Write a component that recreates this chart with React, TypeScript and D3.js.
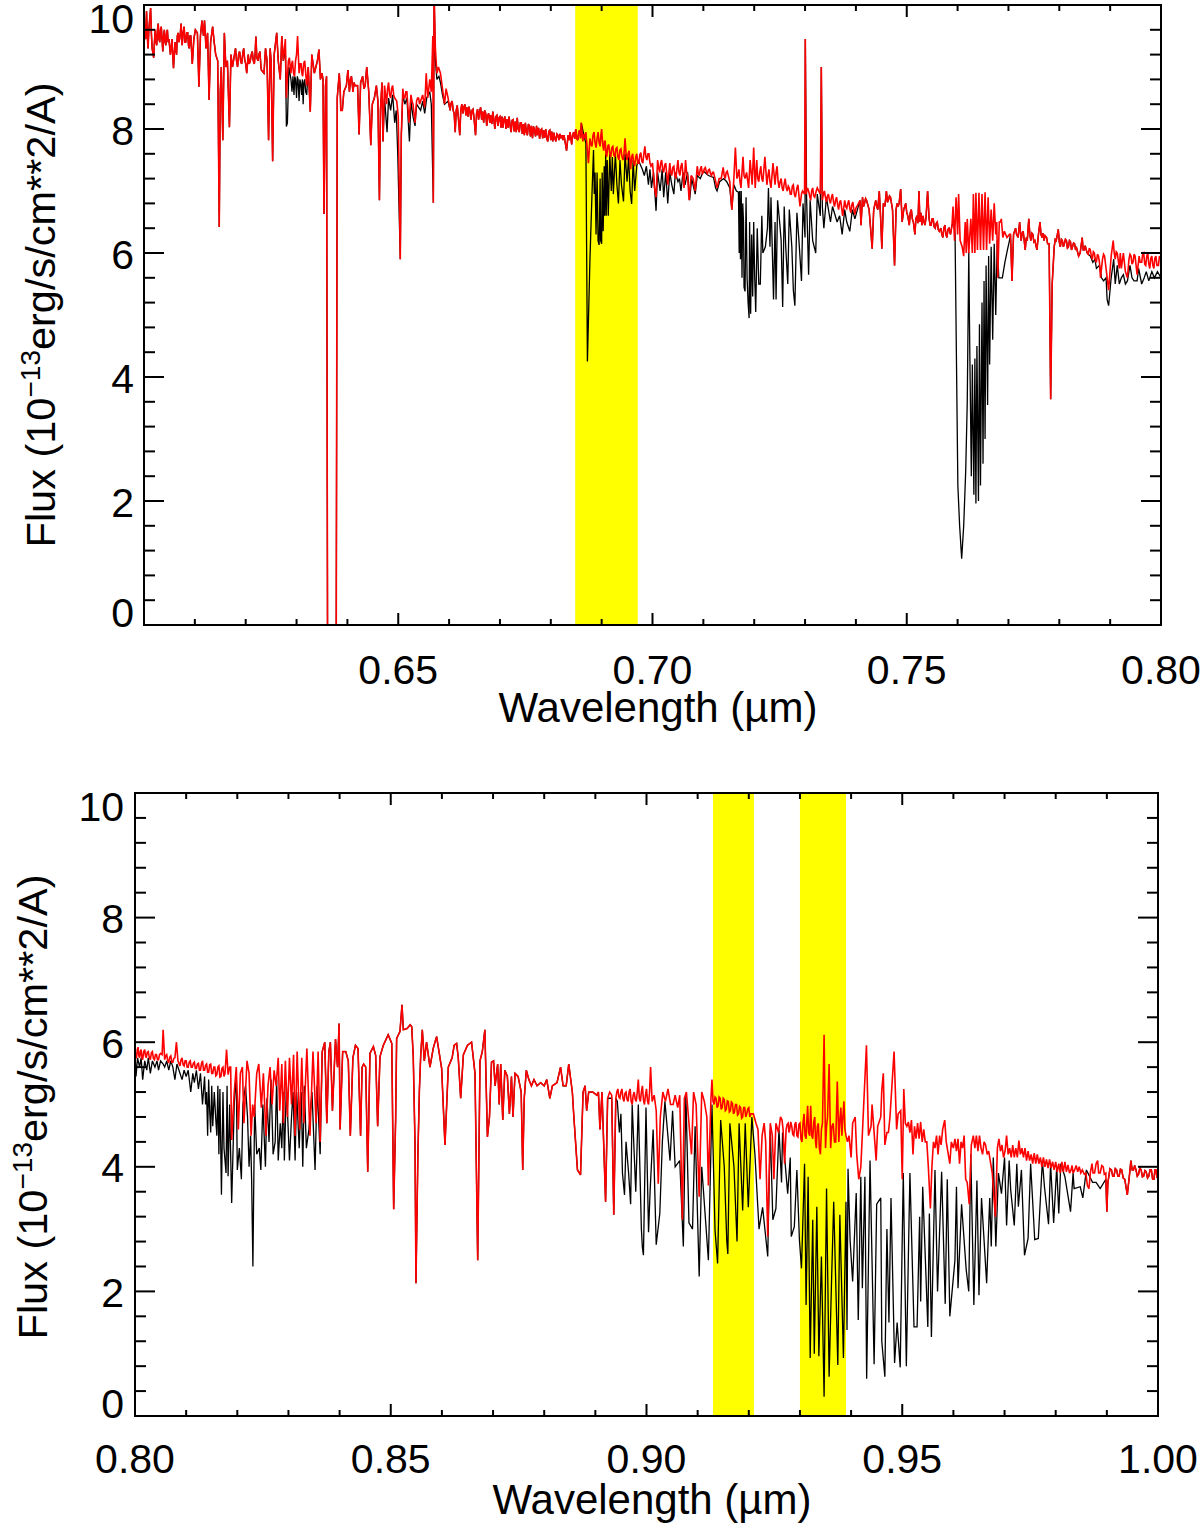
import React from "react";
import * as d3 from "d3";

// All spectra: flat lists of wavelength (nm), flux (1e-13 erg/s/cm**2/A)
const topShared1 = [600,9.8,600.15,9.55,600.3,9.45,600.5,9.9,600.65,9.5,600.8,9.3,600.95,9.6,601.1,9.75,601.3,9.95,601.45,9.55,601.6,9.3,601.9,9.15,602.05,9.4,602.2,9.6,602.35,9.4,602.5,9.35,602.65,9.6,602.8,9.7,602.95,9.45,603.1,9.4,603.25,9.6,603.4,9.65,603.55,9.45,603.7,9.25,603.85,9.5,604,9.6,604.15,9.4,604.3,9.35,604.45,9.55,604.6,9.6,604.75,9.4,604.9,9.45,605.2,9.2,605.5,9.45,605.8,8.98,606.1,9.4,606.25,9.3,606.4,9.2,606.55,9.5,606.7,9.55,606.85,9.4,607,9.45,607.15,9.55,607.3,9.7,607.5,9.35,607.7,9.55,607.9,9.65,608.05,9.4,608.2,9.4,608.4,9.55,608.6,9.55,608.75,9.35,608.9,9.3,609.05,9.5,609.2,9.5,609.5,9.05,609.8,9.45,610.1,9.6,610.5,9.55,610.8,8.68,611.1,9.5,611.4,9.75,611.7,9.5,611.9,9.75,612.2,9.3,612.5,9.55,612.8,8.47,613.1,9.4,613.5,9.65,613.8,9.4,614.1,9.2,614.5,9.1,614.8,6.42,615,8.6,615.2,9,615.5,7.82,615.8,9.55,616.1,9,616.4,9.1,616.8,8.03,617.1,9.2,617.4,9,617.7,9.15,618,9.3,618.2,9.1,618.4,9,618.6,9.2,618.8,9.25,619,9.1,619.2,9.05,619.4,9.2,619.6,9.3,619.8,9.12,620,9.05,620.2,8.9,620.5,9.2,620.7,9.05,620.9,9.1,621.1,9.2,621.3,9.25,621.5,9.1,621.7,9.05,621.85,9.2,622,9.49,622.2,9.15,622.4,9.1,622.6,9.2,622.8,9.25,623,9.0,623.1,8.95,623.6,8.9,623.9,9.3,624.2,9.1,624.5,7.82,624.8,9.3,625,9.1,625.3,7.48,625.6,9.2,626.1,9.55,626.4,9.1,626.8,8.8,627.1,9.5,627.4,9.1];
const topRedDense = [627.8,9.45,628,8.5,628.2,8.85,628.4,9.1,628.6,9.15,628.75,9,628.9,8.9,629.05,9.05,629.2,9.1,629.4,8.9,629.6,8.85,629.8,9.1,630,9.2,630.2,9.5,630.5,8.9,630.7,9.05,630.9,9.05,631.05,8.9,631.2,8.85,631.4,9.05,631.6,9.1,631.8,8.9,632,8.7];
const topBlackDense = [627.8,9.3,628,8.04,628.2,8.1,628.5,9,628.9,8.8,629.1,8.6,629.3,8.85,629.5,8.55,629.65,8.85,629.8,8.8,630,8.5,630.15,8.85,630.3,8.8,630.5,8.45,630.65,8.8,630.8,8.75,631,8.55,631.15,8.8,631.3,8.4,631.45,8.75,631.6,8.8,631.8,8.6,632,8.55];
const topShared2 = [632.3,9,632.7,8.28,633,9.2,633.5,8.9,634.1,9.1,634.4,9.28,634.7,8.8,635,8.9,635.2,8.8,635.4,6.63,635.7,8.7,635.9,8.85,636.1,-0.5,636.9,-0.5,637.8,-0.5,638,8.5,638.4,8.9,638.6,8.6,638.7,8.3,639,8.3,639.3,8.6,639.8,8.7,640.1,8.95,640.4,8.6,640.6,8.8,640.8,8.85,641.1,8.6,641.3,8.75,641.5,8.7,642,8.7,642.3,7.91,642.6,8.75,643,8.85,643.25,8.65,643.5,8.7,643.8,9,644.2,8.6,644.6,7.74,644.9,8.4,645.3,8.5,645.7,8.7,646,8.45,646.3,6.85,646.5,8.3,646.8,8.75,647,7.8];
const topRedMid = [647.3,8.7,647.7,8.4,647.9,8.65,648.1,8.75,648.3,8.55,648.5,8.5,648.7,8.65,648.9,8.7,649.1,8.55,649.3,8.5,649.7,8.45,650,8.2,650.4,5.9,650.6,7.9,650.9,8.65,651.1,8.5,651.3,8.5,651.5,8.6,651.7,8.6,652.1,8.1,652.5,8.55,652.7,8.45,652.9,8.4,653.3,8.1,653.6,8.45,653.8,8.5,654,8.5,654.2,8.4,654.4,8.45,654.6,8.5,654.8,8.55,655.2,8.35,655.5,8.9,655.8,8.5,656.2,8.8,656.5,8.6,656.8,9.5,656.9,6.81,657.05,10.2,657.3,9.3,657.6,8.9,657.9,9,658.3,8.9,658.7,8.65,659.1,8.4,659.4,8.65,659.8,8.5];
const topBlackMid = [647.3,8.5,647.8,7.95,648.1,8.5,648.5,8.3,648.9,8.55,649.3,8.1,649.6,8.3,649.9,7.6,650.4,5.9,650.6,7.9,650.9,8.55,651.3,8.4,651.7,8.5,652.2,7.8,652.5,8.45,652.9,8.2,653.3,8.05,653.6,8.4,654.4,8.3,654.8,8.45,655.2,8.25,655.6,8.5,656.2,8.6,656.5,8.4,656.9,6.81,657.05,10.2,657.3,9.1,657.6,8.8,658,8.85,658.3,8.75,658.7,8.55,659.1,8.4,659.8,8.45];
const topShared3 = [660.2,8.3,660.4,8.42,660.6,8.45,660.8,8.3,661,8.25,661.2,7.95,661.4,8.3,661.6,8.38,661.8,8.2,662.1,7.9,662.3,8.3,662.5,8.4,662.7,8.25,662.9,8.35,663.1,8.4,663.3,8.22,663.5,8.35,663.7,8.2,663.9,8.36,664.1,8.28,664.3,8.15,664.5,8.3,664.7,8.32,664.9,8.18,665.2,7.9,665.4,8.25,665.6,8.32,665.8,8.15,666,8.28,666.2,8.35,666.4,8.15,666.6,8.28,666.8,8.1,667,8.3,667.2,8.25,667.4,8.05,667.6,8.22,667.8,8.25,668,8.1,668.2,8.22,668.4,8.08,668.6,8.28,668.8,8.15,669,8.0,669.2,8.2,669.4,8.22,669.6,8.05,669.8,8.18,670,8.2,670.2,8.02,670.4,8.2,670.6,8.02,670.8,8.16,671,8.2,671.2,8,671.4,8.16,671.6,8.02,671.8,8.2,672,8.05,672.2,7.95,672.4,8.14,672.6,8.15,672.8,7.96,673,8.12,673.2,7.95,673.4,8.18,673.6,8,673.8,7.95,674,8.1,674.2,8.1,674.4,7.92,674.6,8.08,674.8,7.9,675,8.1,675.2,7.95,675.4,7.9,675.6,8.08,675.8,8.05,676,7.88,676.2,8.05,676.4,7.85,676.6,8.04,676.8,7.98,677,7.88,677.2,8.05,677.4,7.9,677.6,8.02,677.8,7.84,678,7.98,678.2,8,678.4,7.85,678.6,7.98,678.8,7.86,679,8,679.2,7.85,679.4,7.8,679.6,7.96,679.8,7.98,680,7.82,680.2,7.96,680.4,7.8,680.6,7.94,680.8,7.85,681,7.8,681.2,7.92,681.4,7.9,681.6,7.82,681.8,7.92,682,7.85,682.2,7.9,682.4,7.82,682.6,7.9,682.8,7.8,683.1,7.65,683.4,7.9,683.6,7.82,683.8,7.95,684.1,7.75,684.3,7.9,684.5,7.95,684.7,7.84,684.9,8,685.1,7.85,685.3,7.82,685.5,7.95,685.7,7.98,685.85,7.85,686,8.1];
const topRed4 = [686.3,7.8,686.5,7.92,686.7,7.85,686.9,7.95,687.1,7.75,687.4,7.45,687.7,7.85,687.9,7.75,688.1,7.72,688.3,7.9,688.5,7.95,688.7,7.78,688.9,7.7,689.1,7.85,689.3,7.95,689.5,7.78,689.7,7.72,689.85,7.9,690,8,690.2,7.75,690.4,7.65,690.55,7.8,690.7,7.8,690.85,7.6,691,7.55,691.2,7.72,691.4,7.75,691.6,7.6,691.8,7.55,692,7.7,692.2,7.72,692.4,7.58,692.6,7.55,692.8,7.68,693,7.7,693.2,7.55,693.4,7.5,693.6,7.66,693.8,7.68,694,7.55,694.2,7.5,694.4,7.6,694.6,7.85,694.8,7.6,695,7.5,695.2,7.6,695.4,7.65,695.7,7.35,695.9,7.55,696.1,7.6,696.3,7.45,696.5,7.4,696.7,7.55,696.9,7.6,697.1,7.45,697.3,7.45,697.5,7.58,697.7,7.62,697.9,7.48,698.1,7.45,698.3,7.6,698.5,7.72,698.7,7.55,698.9,7.5,699.1,7.6,699.3,7.6,699.5,7.45,699.7,7.4,700,7.45,700.4,7.05,700.7,6.9,701,7.5,701.2,7.38,701.4,7.3,701.6,7.45,701.8,7.5,702,7.35,702.2,7.3,702.4,7.42,702.6,7.45,703,7.1,703.4,7.45,703.6,7.3,703.8,7.25,704,7.38,704.2,7.4,704.4,7.25,704.6,7.2,705,7.5,705.2,7.3,705.4,7.25,705.6,7.4,705.8,7.45,706.2,7.05,706.5,7.5,706.7,7.3,706.9,7.25,707.2,6.85,707.6,7.25,708,7.2,708.4,7,708.8,7.4,709,7.28,709.2,7.25,709.4,7.35,709.6,7.4,709.8,7.28,710,7.3,710.2,7.36,710.4,7.38,710.6,7.3,710.8,7.28,711,7.34,711.2,7.35,711.4,7.28,711.6,7.25,711.8,7.3,712,7.3,712.3,7.2,712.7,7.05,713.1,7.2,713.5,7.2,713.9,7.38,714.1,7.25,714.3,7.2,714.5,7.3,714.7,7.32,715.2,7.15,715.6,6.7,716,7.2,716.3,7.7,716.6,7.2,716.8,7.25,717,7.35,717.2,7.15,717.4,7.05,717.8,7.55,718,7.25,718.2,7.2,718.5,7.3,718.9,7.05,719.2,7.5,719.6,7.1,719.9,7.7,720.2,7.05,720.5,7.5,720.7,7.2,720.9,7.15,721.1,7.3,721.3,7.4,721.5,7.2,721.7,7.15,722.1,7.55,722.5,7.1,722.7,7.25,722.9,7.35,723.1,7.15,723.3,7.05,723.7,7.45,724.1,7.1,724.3,7.3,724.5,7.4,724.7,7.15,724.9,7.05,725.1,7.15,725.3,7.2,725.5,7.05,725.7,7,725.9,7.12,726.1,7.2,726.3,7.05,726.5,7,726.7,7.08,726.9,7.05,727.1,6.95,727.3,6.95,727.5,7.08,727.7,7.1,727.9,6.95,728.1,6.9,728.4,7.05,728.6,7.1,729,6.75,729.3,6.95,729.5,7,729.9,6.95,730.05,9.45,730.2,6.95,730.5,7.05,730.7,7,731.1,6.85,731.3,7,731.5,7.05,731.7,6.92,731.9,6.9,732.2,7,732.4,7.05,733,6.95,733.2,9,733.4,6.85,733.6,6.95,733.8,7,734,6.9,734.2,6.82,734.4,6.92,734.6,6.95,734.8,6.85,735,6.8,735.2,6.9,735.4,6.95,735.6,6.82,735.8,6.75,736,6.85,736.2,6.9,736.4,6.78,736.6,6.7,736.8,6.82,737,6.85,737.4,6.6,737.8,6.85,738,6.75,738.2,6.72,738.4,6.8,738.6,6.85,738.8,6.72,739,6.65,739.2,6.78,739.4,6.82,739.6,6.7,739.8,6.62,740,6.72,740.2,6.75];
const topBlack4 = [686.5,7.9,686.9,7.77,687.2,4.25,687.7,5.9,688.1,6.95,688.4,7.66,688.55,6.95,688.7,7.3,688.9,6.3,689.1,7.3,689.3,6.2,689.5,6.13,689.7,7.2,689.8,6.2,690,6.15,690.1,7.3,690.3,6.35,690.5,7.4,690.6,6.6,690.8,7.6,690.9,6.6,691.1,7.5,691.3,6.6,691.6,7.6,691.9,7.0,692.1,7.55,692.3,6.95,692.7,7.6,693,7.1,693.3,6.8,693.6,7.5,693.9,7.1,694.3,6.83,694.6,7.6,695,7.15,695.3,7.55,695.6,7.0,695.9,6.79,696.2,7.5,696.5,7,696.9,7.4,697.2,7.5,698,7.35,698.4,7.25,698.8,7.4,699.2,7.1,699.5,7.35,699.8,7.05,700.2,7.3,700.7,6.68,701,7.3,701.5,7.0,701.9,7.35,702.2,6.9,702.6,7.3,703,6.8,703.4,7.3,703.8,7.1,704.2,6.95,704.5,7.3,705,7.15,705.3,7.2,705.6,7.0,706,7.3,706.4,7.1,706.9,7.3,707.3,6.85,707.7,7.2,708.4,6.95,708.8,7.25,709.4,7.2,710,7.32,711,7.25,712,7.22,712.4,7.05,712.7,7.0,713.2,7.15,714,7.2,714.6,7.15,715.2,7.05,715.6,6.7,716,7.1,716.5,7,716.9,6.98,717.05,6,717.15,7,717.3,5.9,717.45,7,717.6,5.6,717.75,6.8,717.9,6.5,718,5.45,718.2,5.38,718.4,6.9,718.6,5.6,718.8,5.2,719,4.95,719.1,6.5,719.3,5.02,719.5,6.3,719.7,5.3,719.9,6.5,720.1,5.6,720.3,5.05,720.6,6.4,720.9,5.5,721.2,5.5,721.5,6.6,721.7,6.0,722.2,6.1,722.6,6.4,722.8,7.05,723.1,6.1,723.3,6.9,723.8,5.25,724.1,6.5,724.3,5.25,724.6,6.85,725,6.5,725.3,6.2,725.6,5.13,725.9,6.75,726.2,6.1,726.6,5.5,726.9,6.7,727.4,6.1,727.7,5.4,728,5.15,728.4,6.65,728.8,6.2,729.3,5.55,729.6,6.8,730,6.25,730.05,9.45,730.3,6.9,730.7,5.65,731,6.85,731.5,6.2,732.1,6,732.4,6.95,733,6.6,733.2,9,733.4,6.75,733.7,6.4,734.2,6.9,735,6.5,735.4,6.75,736.3,6.5,736.8,6.6,737.3,6.3,737.8,6.7,738.2,6.5,738.8,6.35,739.3,6.7,739.8,6.55,740.3,6.7];
const topShared5 = [740.8,6.85,741,6.45,741.3,6.9,741.5,6.75,741.7,6.8,741.9,6.88,742.1,6.85,742.6,6.7,743.2,6.07,743.5,6.7,743.9,6.85,744.1,6.75,744.3,6.7,744.6,7,744.9,6.5,745.1,6.07,745.4,6.8,745.7,6.75,746,7,746.2,6.82,746.4,6.85,746.6,6.92,746.8,6.9,747.2,6.7,747.6,5.8,747.9,6.7,748.1,6.8,748.3,6.75,748.5,6.8,748.8,7.03,749.1,6.5,749.4,6.7,749.6,6.75,749.8,6.8,750,6.65,750.2,6.6,750.5,6.45,750.7,6.65,750.9,6.7,751.1,6.55,751.3,6.5,751.6,6.3,751.8,6.55,752,6.6,752.2,6.48,752.4,7.0,752.6,6.5,752.8,6.65,753,6.45,753.2,6.6,753.4,6.5,753.6,6.45,753.8,6.58,754.1,7.0,754.4,6.55,754.6,6.45,754.8,6.45,755,6.55,755.2,6.55,755.4,6.42,755.6,6.4,755.8,6.48,756,6.5,756.2,6.38,756.4,6.35,756.7,6.4,756.9,6.3,757.1,6.25,757.3,6.4,757.5,6.45,757.7,6.3,757.9,6.25,758.1,6.38,758.3,6.4,758.6,6.3,758.9,6.45];
const topRed6 = [759.1,6.75,759.4,6.2,759.7,6.9,760,6.3,760.2,6.95,760.5,6.2,760.9,6.1,761.2,5.95,761.5,6.5,761.7,6.0,761.9,6.55,762.2,6.0,762.6,6.55,762.9,6.0,763.1,6.95,763.4,6,763.6,6.97,763.9,6.05,764.2,6.97,764.5,6.05,764.8,6.95,765.1,6.05,765.4,6.98,765.7,6.05,766,6.9,766.3,6.15,766.6,6.7,766.9,6.2,767.2,6.8,767.5,6.3,767.7,6.5,767.9,5.6,768.2,6.5,768.4,6.5,768.6,6.55,768.9,6.25,769.2,6.35,769.7,6.25,770.2,6.3];
const topBlack6 = [759.2,6.5,759.5,6.3,760,2.63,760.05,2.25,760.4,1.6,760.8,1.07,761.2,1.6,761.6,2.5,761.9,3.6,762.2,6.02,762.4,4.4,762.7,2.4,762.9,4.2,763.2,2.1,763.4,4.3,763.6,1.96,763.8,4.5,764.1,2,764.3,4.85,764.5,2.25,764.8,5.2,765,2.6,765.2,5.55,765.4,3,765.6,5.8,765.9,3.55,766.1,5.95,766.3,4.2,766.6,6.1,766.9,4.6,767.2,6.15,767.5,5,767.8,6.2,768.1,5.6,768.8,5.6,769.3,5.85,769.8,6.05,770.2,6.2];
const topShared7 = [770.4,6.3,770.7,5.55,771,6.3,771.2,6.35,771.4,6.4,771.6,6.3,771.9,6.25,772.2,6.5,772.5,6.2,772.7,6.32,772.9,6.35,773.1,6.2,773.3,6.05,773.5,6.25,773.7,6.2,774,6.55,774.2,6.3,774.4,6.2,774.6,6.32,774.8,6.3,775,6.18,775.2,6.2,775.6,6.05,775.9,6.3,776.2,6.5,776.4,6.3,776.6,6.25,776.8,6.32,777,6.2,777.2,6.28,777.5,6.25,777.7,6.15,778,6.15,778.3,3.64,778.6,5.5,779,6.1,779.2,6.22,779.4,6.2,779.8,6.38,780,6.18,780.2,6.1,780.4,6.22,780.6,6.2,780.8,6.1,781,6.15,781.2,6.22,781.4,6.2,781.6,6.08,781.8,6.1,782,6.2,782.2,6.18,782.4,6.05,782.6,6.1,782.8,6.16,783,6.15,783.2,6.05,783.4,6.08,783.8,5.95,784.1,6,784.5,6.25,784.7,6.05,784.9,6.05,785.1,6.12,785.3,6.05,785.5,6.0,785.7,5.98];
const topRed8 = [785.9,6.08,786.1,6.05,786.3,5.95,786.5,5.9,786.7,6.02,786.9,6.0,787.1,5.88,787.3,5.85,787.5,5.98,787.7,5.95,787.9,5.85,788.1,5.6,788.5,5.9,788.7,5.98,788.9,5.95,789.2,5.75,789.7,5.4,790.2,5.95,790.6,6.2,790.8,6,791,5.9,791.2,6.02,791.4,6,791.8,5.75,792,6,792.2,5.75,792.6,6,792.8,5.85,793,5.7,793.4,5.6,793.7,5.9,793.9,5.98,794.1,5.95,794.3,5.82,794.5,5.85,794.7,5.98,794.9,5.95,795.3,5.65,795.7,5.95,795.9,5.85,796.2,5.85,796.4,5.98,796.6,6,796.8,5.82,797,5.8,797.2,5.95,797.4,6,797.6,5.82,797.8,5.75,798,5.92,798.2,5.95,798.4,5.8,798.6,5.75,798.8,5.92,799,5.95,799.2,5.8,799.5,5.8,799.7,5.95,800,5.9];
const topBlack8 = [786.1,5.95,786.6,5.85,787,5.9,787.3,5.75,787.9,5.8,788.3,5.6,788.7,5.55,789.2,5.6,789.4,5.25,789.7,5.15,790.2,5.6,790.7,5.9,791,5.5,791.4,5.8,791.8,5.5,792.2,5.6,792.6,5.65,793,5.5,793.4,5.55,793.9,5.8,794.3,5.6,794.7,5.55,795.3,5.55,795.6,5.75,796.2,5.5,796.7,5.6,797.1,5.7,797.6,5.55,798.2,5.7,798.7,5.6,799.3,5.7,800,5.6];

const botRed1 = [800,5.87,800.15,5.75,800.3,5.75,800.45,5.88,800.6,5.92,800.75,5.78,800.9,5.75,801.05,5.85,801.2,5.88,801.35,5.75,801.5,5.72,801.7,5.85,801.9,5.88,802.05,5.78,802.2,5.75,802.4,5.84,802.6,5.85,802.8,5.75,803,5.72,803.2,5.83,803.4,5.85,803.6,5.74,803.8,5.72,804,5.8,804.2,5.8,804.4,5.72,804.6,5.72,804.8,5.8,805,5.82,805.3,5.8,805.5,6.2,805.8,5.72,806,5.78,806.2,5.8,806.4,5.7,806.6,5.68,806.8,5.76,807,5.78,807.2,5.68,807.4,5.68,807.6,5.74,807.8,5.75,808.1,6,808.4,5.7,808.6,5.66,808.8,5.62,809,5.72,809.2,5.75,809.4,5.64,809.6,5.62,809.8,5.7,810,5.7,810.2,5.6,810.4,5.6,810.6,5.68,810.8,5.7,811,5.6,811.2,5.6,811.4,5.66,811.6,5.68,811.8,5.58,812,5.58,812.2,5.65,812.4,5.66,812.6,5.55,812.8,5.55,813,5.66,813.2,5.7,813.4,5.55,813.6,5.55,813.8,5.63,814,5.65,814.2,5.52,814.4,5.52,814.6,5.64,814.8,5.65,815,5.5,815.2,5.5,815.4,5.6,815.6,5.6,815.8,5.46,816,5.48,816.2,5.6,816.4,5.62,816.6,5.44,816.8,5.45,817,5.58,817.2,5.6,817.4,5.45,817.6,5.5,817.9,5.88,818.2,5.48,818.5,5.6,818.7,5.6];
const botBlack1 = [800,5.85,800.2,5.45,800.5,5.75,800.9,5.6,801.2,5.75,801.5,5.4,801.9,5.7,802.3,5.55,802.6,5.75,803,5.5,803.4,5.7,803.9,5.6,804.3,5.7,804.6,5.55,805,5.7,805.5,5.65,805.8,5.6,806.2,5.7,806.6,5.55,807,5.7,807.4,5.6,807.8,5.4,808.2,5.65,808.6,5.55,809.2,5.4,809.6,5.55,810,5.45,810.4,5.55,810.9,5.2,811.3,5.5,811.6,5.35,812,5.55,812.4,5.25,812.8,5.5,813.2,5,813.6,5.45,813.8,5.0,814,5.2,814.2,4.5,814.4,5.4,814.6,4.9,814.8,4.55,815,5.3,815.2,4.65,815.5,5.2,815.8,4.75,816,4.5,816.2,5.3,816.4,4.2,816.6,5.25,816.9,3.55,817.2,5.2,817.4,4.3,817.8,3.9,818,5.3,818.2,3.85,818.5,5.0];
const botRed2 = [818.9,4.43,819.4,5.2,819.8,5.6,820.2,4.6,820.6,5.5,821,5.6,821.3,4.7,821.6,5.2,821.9,5.7,822.3,5.5,822.7,4.5,823,5.0,823.3,4.8,823.8,5.5,824.2,5.65,824.7,4.95,825.1,5.5,825.6,4.5,826,5.3,826.4,5.6,826.8,5.0,827.2,5.55,827.6,5.3,828,5.75,828.3,4.9,828.7,5.65,829,4.7,829.4,5.7,829.8,4.8,830.2,5.75,830.6,5.0,831,5.8,831.3,4.5,831.7,5.85,832.2,4.6,832.6,5.75,833,4.7,833.6,5.9,834.2,4.5,834.8,5.85,835.4,4.7,835.8,5.85,836.2,4.4];
const botBlack2 = [818.9,3.42,819.4,5.0,819.8,5.5,820,3.95,820.4,4.3,820.8,3.8,821.1,5.0,821.6,5.3,822,4.8,822.3,4.0,822.6,4.5,822.8,3.8,823.05,2.4,823.2,3.6,823.4,5.0,823.8,4.2,824.3,4.3,824.6,3.95,825,5.0,825.5,4.0,825.8,5.1,826.2,4.4,826.6,5.4,827,4.2,827.4,4.4,827.7,5.4,828,4.1,828.4,4.7,828.7,4.3,829,5.2,829.2,4.1,829.6,5.3,830.2,4.1,830.6,4.8,830.9,5.2,831.3,4.1,831.6,5.2,832.1,4.3,832.5,5.2,832.8,4.0,833.1,5.3,833.5,4.3,834,4.6,834.6,5.2,835.2,3.95,835.6,5.3,836.2,4.2];
const botShared3 = [836.6,5.85,837.1,6,837.5,4.7,837.9,5.85,838.2,6.0,838.6,4.9,839.2,6.05,839.5,5.7,839.6,5.6,839.9,6.3,840.1,4.6,840.6,5.85,841.2,5.85,841.7,5.7,842.1,4.5,842.6,5.75,843.1,5.95,843.6,5.9,844.1,4.5,844.4,5.6,844.7,5.65,845.1,5.6,845.5,3.92,845.94,5.82,846.6,5.93,847.05,5.79,847.44,4.65,847.9,5.77,848.55,5.95,849.5,6.12,850.2,5.98,850.57,3.32,850.96,4.78,851.15,6.06,851.8,6.17,852.2,6.6,852.46,6.2,853.2,6.22,853.8,6.28,854.1,6.25,854.4,5.77,854.74,4.38,854.93,2.13,855.3,4.16,855.6,5.23,855.85,5.77,856.17,6.2,856.56,5.7,857,6,857.67,5.6,858.3,5.9,858.97,6.09,859.95,5.58,860.6,4.35,861.25,5.6,862,5.75,862.4,5.95,862.88,5.98,863.2,5.75,863.67,5.1,864.2,5.8,865,5.95,865.8,6,866.47,5.5,867,2.5,867.45,5.7,867.9,5.85,868.4,6.2,868.9,4.48,869.3,4.8,869.7,5.68,870.1,5.7,870.4,5.3,870.9,5.65,871.2,5.0,871.5,5.65,871.9,4.75,872.3,5.55,872.8,5.45,873.2,4.85,873.6,5.45,873.9,4.8,874.3,5.5,874.9,5.45,875.5,5.2,875.8,3.95,876.1,5.1,876.5,5.55,877,5.4,877.5,5.3,878,5.4,878.6,5.3,879.3,5.35,880,5.3,880.5,5.4,881.1,5.1,881.6,5.3,882.5,5.35,883.2,5.6,883.7,5.3,884.3,5.3,884.8,5.65,885.5,5.2,885.8,4.8,886.5,3.95,887.1,3.87,887.6,5.2,888,5.3,888.3,4.9,888.7,5.2,889.5,5.2,890.3,5.15];
const botRed4 = [890.6,5.2,890.9,4.6,891.3,5.2,892,3.44,892.4,5.1,892.8,5.2,893.2,5.15,893.6,3.23,894,5.1,894.2,5.2,894.4,5.25,894.6,5.12,894.8,5.1,895,5.2,895.2,5.25,895.4,5.1,895.6,5.05,895.8,5.18,896,5.2,896.2,5.08,896.4,5.05,896.6,5.2,896.8,5.25,897,5.05,897.2,5.0,897.4,5.15,897.6,5.2,897.8,5.08,898,5.05,898.2,5.2,898.4,5.4,898.6,5.1,898.8,5.05,899,5.2,899.2,5.3,899.4,5.08,899.6,5.0,899.8,5.15,900,5.25,900.2,5.05,900.4,5.0,900.6,5.2,900.8,5.6,901.1,5.05,901.5,5.15,901.9,4.9,902.3,3.73,902.7,4.8,903.2,5.2,903.7,5.05,904.2,5.25,904.7,5.0,905.2,5.0,905.6,5.15,906.1,4.95,906.5,5.15,907,3.15,907.4,5.1,907.8,5.2,908.2,4.8,908.8,4.2,909.2,5.2,909.7,5.0,910.3,3.52,910.8,5.2,911.3,5.05,911.8,4.8,912.1,3.7,912.6,5.1,912.8,5.4,913,5.05,913.2,5.0,913.4,5.12,913.6,5.1,913.8,4.95,914,4.98,914.2,5.12,914.4,5.1,914.6,4.92,914.8,4.95,915,5.1,915.2,5.08,915.4,4.9,915.6,4.92,915.8,5.06,916,5.05,916.2,4.88,916.4,4.9,916.6,5.04,916.8,5.02,917,4.85,917.2,4.88,917.4,5.0,917.6,5,917.8,4.83,918,4.85,918.2,4.97,918.4,4.95,918.6,4.78,918.8,4.8,919,4.95,919.2,4.95,919.4,4.8,919.6,4.85,919.8,4.93,920,4.95,920.2,4.8,920.4,4.85,920.9,4.85,921.4,4.7,921.8,4.6,922.2,3.8,922.6,4.5,923,4.7,923.3,4.4,923.7,2.88,924.2,4.7,924.6,4.5,924.9,3.8,925.3,4.7,925.8,4.55,926.2,4.8,926.5,4.75,926.7,4.6,927,4.05,927.3,4.6,927.5,4.68,927.7,4.7,927.85,4.55,928,4.6,928.2,4.72,928.4,4.65,928.6,4.52,928.8,4.5,929,4.68,929.2,4.72,929.4,4.5,929.6,4.48,929.8,4.68,930,4.7,930.2,4.45,930.4,4.4,930.6,4.7,930.8,4.85,931,4.5,931.2,4.45,931.35,4.75,931.5,4.98,931.7,4.55,931.9,4.5,932.1,4.98,932.3,4.5,932.5,4.45,932.7,4.72,932.9,4.8,933.05,4.4,933.2,4.3,933.4,4.65,933.6,4.7,933.8,4.3,934,4.2,934.2,4.6,934.4,4.7,934.72,6.12,935,4.3,935.2,4.65,935.4,4.8,935.7,5.65,936,4.3,936.25,4.65,936.5,4.7,936.75,4.4,937,4.4,937.3,5.37,937.6,4.4,937.8,4.75,938,4.95,938.2,4.5,938.4,4.8,938.6,5.05,938.8,4.6,939,4.5,939.3,4.4,939.6,4.5,940,4.15,940.3,4.7,940.8,4.8,941.1,4.2,941.5,3.8,941.9,4.0,942.3,4.7,943,5.95,943.4,4.5,943.9,4.65,944.1,5,944.5,4.55,944.9,4.1,945.2,4.65,945.8,4.8,946,5.23,946.3,5.5,946.6,4.35,947,4.55,947.3,4.55,947.6,4.8,948.4,5.85,948.9,4.6,949.2,4.85,949.7,4.9,950,3.8,950.3,5.25,950.6,4.7,950.9,4.65,951.2,4.72,951.5,4.55,951.8,4.75,952.1,4.2,952.4,4.65,952.7,4.45,953,4.7,953.3,4.45,953.6,4.72,953.9,4.4,954.2,4.6,954.5,4.4,954.8,4.4,955.1,4.0,955.5,3.33,955.8,4.0,956.1,4.4,956.4,4.3,956.7,4.5,957,4.2,957.3,4.5,957.6,4.35,957.9,4.6,958.3,4.75,958.6,4.4,959,4.2,959.3,4.05,959.6,4.4,960,4.3,960.3,4.45,960.6,4.25,960.9,4.45,961.2,4.05,961.5,4.4,961.8,4.3,962.1,4.5,962.4,3.8,962.7,3.75,963.1,3.4,963.5,4.35,963.9,4.5,964.2,4.3,964.5,4.5,964.8,4.25,965.1,4.5,965.4,4.3,965.7,4.2,966,4.4,966.3,4.35,966.6,4.2,966.9,4.25,967.2,4.1,967.6,3.9,968.2,3.2,968.6,4.3,968.9,4.45,969.2,4.25,969.5,4.35,969.8,4.15,970.1,4.25,970.4,4.5,970.7,4.2,971,4.3,971.3,4.15,971.6,4.35,971.9,4.15,972.2,4.3,972.5,4.15,972.8,4.42,973.1,4.2,973.4,4.3,973.7,4.15,974,4.3,974.3,4.1,974.6,4.25,974.9,4.1,975.2,4.2,975.5,4.05,975.8,4.22,976.1,4.05,976.4,4.2,976.7,4.05,977,4.15,977.3,4.0,977.6,4.15,977.9,4.0,978.2,4.12,978.5,3.98,978.8,4.12,979.1,3.98,979.4,4.08,979.7,3.95,980,4.08,980.3,3.92,980.6,4.05,980.9,3.9,981.2,4.08,981.5,3.92,981.8,4.08,982.1,3.92,982.4,4.03,982.7,3.9,983,3.95,983.2,4.02,983.4,3.9,983.7,3.95,984,4.02,984.3,3.92,984.6,4.0,984.9,3.9,985.2,3.95,985.6,3.88,985.9,3.9,986.2,3.7,986.5,3.65,986.8,3.92,987.1,4.05,987.3,3.9,987.6,3.9,987.9,4.05,988.2,4.1,988.4,3.9,988.7,3.9,989,4.02,989.3,4.0,989.5,3.88,989.8,3.9];
const botBlack4 = [890.6,5.2,890.9,4.6,891.3,5.2,892,3.44,892.4,5.1,892.8,5.1,893.2,5.1,893.6,3.23,894,5.1,894.3,5.05,894.7,4.55,895,4.85,895.3,3.9,895.7,3.55,896,4.4,896.5,3.9,896.9,3.4,897.2,5.0,897.9,3.6,898.4,5.0,899,3.0,899.2,2.7,899.4,2.58,899.9,4.95,900.4,2.95,900.7,3.6,901.3,4.6,901.9,2.75,902.6,3.25,903.1,4.4,903.6,5.05,904.6,4.1,905.1,4.9,905.6,4.0,906.5,4.1,907.2,2.72,907.7,5.15,908.3,3.1,909,3,909.5,4.65,910.3,2.24,910.8,4.0,912.1,2.5,912.8,5.0,913.4,2.98,913.9,2.45,914.5,4.75,915.2,4.0,915.7,2.8,915.9,2.6,916.3,4.7,917.1,4.0,917.7,2.8,918.1,4.7,918.8,3.3,919.3,4.7,919.9,3.35,920.6,4.8,921.2,4.2,922,3,922.7,3.35,923.7,2.56,924.2,4.6,924.7,3.15,925.3,3.33,925.9,4.6,926.4,3.75,926.6,4.55,927.6,3.57,928.1,4.15,928.3,2.88,928.9,3.04,929.4,3.95,929.9,2.82,930.3,2.37,930.9,4.05,931.2,1.78,931.6,3.84,932,0.93,932.5,3.15,932.8,1.0,933.3,3.36,933.7,0.96,934.2,2.56,934.72,0.31,935.2,3.65,935.7,0.63,936.2,2.24,936.6,3.44,937.4,0.82,937.8,3.23,938.5,0.93,939,3.44,939.2,1.38,939.4,3.97,939.8,2.83,940.3,2.16,941,3.58,941.4,1.54,941.9,3.84,942.2,2.05,942.7,3.84,943.04,0.6,943.7,4.1,944.5,0.83,945,3.4,945.8,3.5,946,1.2,946.6,0.63,947,3.0,947.4,1.5,947.8,3.5,948.5,0.85,949,1.5,949.6,0.78,950.2,3.9,950.8,0.8,951.5,3.9,952.3,1.43,952.9,1.43,953.4,3.2,953.6,1.84,954,3.68,955,1.43,955.3,3.25,955.7,1.27,956.4,3.95,956.9,2.0,957.7,3.92,958.4,1.8,958.8,3.8,959.3,1.6,960.3,2.5,960.6,3.68,960.9,2.05,961.6,3.4,962.5,2.35,963,2,963.4,4.2,964,1.78,964.6,3.78,965,1.94,965.5,3.5,966.5,2.13,967.1,3.5,967.4,2.72,967.8,4.15,968.3,2.72,968.8,3.9,969.4,3.57,970,4.15,970.4,3.06,970.9,4.1,971.2,3.63,971.9,3.06,972.4,4.05,972.7,3.36,973.3,3.95,973.9,2.58,974.6,2.85,975.1,4.05,975.9,2.83,976.6,2.85,977.4,4.1,977.8,3.68,978.6,3.08,979,4.05,979.6,3.1,980.2,4.0,980.6,3.25,981,4.05,981.8,3.84,982.9,3.28,983.4,3.9,983.6,3.65,984.8,3.68,985.3,3.5,986,3.95,987.2,3.75,987.9,3.75,988.7,3.65,989.8,3.8];
const botShared5 = [990,3.28,990.2,3.75,990.4,3.85,990.6,3.97,990.9,3.95,991.15,3.85,991.4,3.85,991.65,3.97,991.9,3.95,992.15,3.85,992.4,3.85,992.65,3.96,992.9,3.95,993.2,3.82,993.5,3.8,994,3.55,994.4,3.85,994.7,4.1,994.95,3.95,995.2,3.95,995.45,4.02,995.7,3.95,995.95,3.85,996.2,3.88,996.45,3.98,996.7,3.95,996.95,3.84,997.2,3.85,997.45,3.94,997.7,3.92,997.95,3.82,998.2,3.85,998.45,3.95,998.7,3.95,998.95,3.8,999.2,3.8,999.4,3.95,999.6,3.95,999.8,3.82,1000,3.85];

const xTickTop = [0.65, 0.70, 0.75, 0.80];
const xTickBot = [0.80, 0.85, 0.90, 0.95, 1.00];
const yTicks = [10, 8, 6, 4, 2, 0];
const bandsTop = [[684.8, 697.1]];
const bandsBot = [[913.0, 921.0], [930.0, 939.0]];

const grouped = (...parts: number[][]) => {
  const flat = parts.flat();
  const pts: [number, number][] = [];
  for (let i = 0; i + 1 < flat.length; i += 2) pts.push([flat[i], flat[i + 1]]);
  return pts;
};

const topBlack = grouped(topShared1, topBlackDense, topShared2, topBlackMid, topShared3, topBlack4, topShared5, topBlack6, topShared7, topBlack8);
const topRed = grouped(topShared1, topRedDense, topShared2, topRedMid, topShared3, topRed4, topShared5, topRed6, topShared7, topRed8);
const botBlack = grouped(botBlack1, botBlack2, botShared3, botBlack4, botShared5);
const botRed = grouped(botRed1, botRed2, botShared3, botRed4, botShared5);

const FONT = "'Liberation Sans', Arial, sans-serif";
const FS = 41;

function Panel(props: {
  id: string; left: number; right: number; top: number; bottom: number; domain: [number, number];
  bands: number[][]; black: [number, number][]; red: [number, number][]; labels: number[];
  labelRight: number; xLabelY: number; xTitleX: number; xTitleY: number; yTitleX: number; yTitleMid: number;
}) {
  const { id, left, right, top, bottom, domain, bands, black, red, labels } = props;
  const x = d3.scaleLinear().domain(domain).range([left, right]);
  const y = d3.scaleLinear().domain([0, 10]).range([bottom, top]);
  const line = d3.line<[number, number]>().x((d) => x(d[0])).y((d) => y(d[1]));
  const xMinor = d3.range(0, 21).map((i) => domain[0] + i * 10);
  const yMinor = d3.range(0, 26).map((i) => i * 0.4);
  const isMajor = (i: number) => i % 5 === 0;
  const shift = (v: number) => (v === 10 ? 13 : v === 0 ? -13 : 1);
  return (
    <g>
      <clipPath id={id}><rect x={left} y={top} width={right - left} height={bottom - top} /></clipPath>
      {bands.map((b, i) => (
        <rect key={i} x={x(b[0])} y={top} width={x(b[1]) - x(b[0])} height={bottom - top} fill="#ffff00" />
      ))}
      <g clipPath={`url(#${id})`} fill="none" strokeLinejoin="miter" strokeMiterlimit={3}>
        <path d={line(black) ?? ""} stroke="#000" strokeWidth={1.3} />
        <path d={line(red) ?? ""} stroke="#ff0000" strokeWidth={1.6} />
      </g>
      <rect x={left} y={top} width={right - left} height={bottom - top} fill="none" stroke="#000" strokeWidth={2} />
      {xMinor.map((v, i) => {
        const l = isMajor(i) ? 12 : 6;
        return (
          <g key={i} stroke="#000" strokeWidth={2}>
            <line x1={x(v)} x2={x(v)} y1={bottom} y2={bottom - l} />
            <line x1={x(v)} x2={x(v)} y1={top} y2={top + l} />
          </g>
        );
      })}
      {yMinor.map((v, i) => {
        const l = isMajor(i) ? 20 : 11;
        return (
          <g key={i} stroke="#000" strokeWidth={2}>
            <line x1={left} x2={left + l} y1={y(v)} y2={y(v)} />
            <line x1={right} x2={right - l} y1={y(v)} y2={y(v)} />
          </g>
        );
      })}
      {labels.map((v) => (
        <text key={v} x={x(v * 1000)} y={props.xLabelY} textAnchor="middle" fontFamily={FONT} fontSize={FS} fill="#000">{v.toFixed(2)}</text>
      ))}
      {yTicks.map((v) => (
        <text key={v} x={props.labelRight} y={y(v) + shift(v) + 14.5} textAnchor="end" fontFamily={FONT} fontSize={FS} fill="#000">{v}</text>
      ))}
      <text x={props.xTitleX} y={props.xTitleY} textAnchor="middle" fontFamily={FONT} fontSize={FS + 1} fill="#000">Wavelength (µm)</text>
      <text transform={`translate(${props.yTitleX},${props.yTitleMid}) rotate(-90)`} textAnchor="middle" fontFamily={FONT} fontSize={FS + 0.5} fill="#000">
        Flux (10<tspan dy={-15} fontSize={28}>−13</tspan><tspan dy={15}>erg/s/cm**2/A)</tspan>
      </text>
    </g>
  );
}

export default function App() {
  return (
    <svg width={1200} height={1525} style={{ position: "absolute", left: 0, top: 0, display: "block", background: "#fff" }}>
      <Panel id="clipTop" left={144} right={1161} top={5} bottom={625} domain={[600, 800]} bands={bandsTop} black={topBlack} red={topRed}
        labels={xTickTop} labelRight={134} xLabelY={684} xTitleX={658} xTitleY={722} yTitleX={55} yTitleMid={315} />
      <Panel id="clipBot" left={135} right={1158} top={793} bottom={1416} domain={[800, 1000]} bands={bandsBot} black={botBlack} red={botRed}
        labels={xTickBot} labelRight={124} xLabelY={1473} xTitleX={652} xTitleY={1514} yTitleX={47} yTitleMid={1107} />
    </svg>
  );
}
